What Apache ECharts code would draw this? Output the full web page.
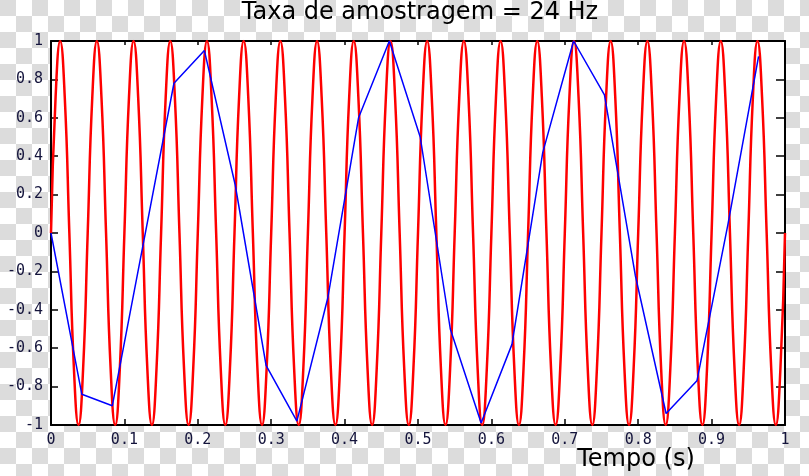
<!DOCTYPE html>
<html>
<head>
<meta charset="utf-8">
<script src="https://cdn.jsdelivr.net/npm/echarts@6/dist/echarts.min.js"></script>
<style>
  html, body { margin: 0; padding: 0; }
  #chart {
    width: 809px; height: 476px;
    background-color: #fff;
    background-image: repeating-conic-gradient(#fff 0% 25%, #dcdcdc 0% 50%);
    background-size: 32px 32px;
    background-position: 0 0;
  }
</style>
</head>
<body>
<div id="chart"></div>
<script>
// ---- data ----
const titleText = 'Taxa de amostragem = 24 Hz';
const xAxisLabel = 'Tempo (s)';

// red: continuous 20 Hz signal, read at 8 points per cycle
const redTime = [
  0, 0.00625, 0.0125, 0.01875, 0.025, 0.03125, 0.0375, 0.04375,
  0.05, 0.05625, 0.0625, 0.06875, 0.075, 0.08125, 0.0875, 0.09375,
  0.1, 0.10625, 0.1125, 0.11875, 0.125, 0.13125, 0.1375, 0.14375,
  0.15, 0.15625, 0.1625, 0.16875, 0.175, 0.18125, 0.1875, 0.19375,
  0.2, 0.20625, 0.2125, 0.21875, 0.225, 0.23125, 0.2375, 0.24375,
  0.25, 0.25625, 0.2625, 0.26875, 0.275, 0.28125, 0.2875, 0.29375,
  0.3, 0.30625, 0.3125, 0.31875, 0.325, 0.33125, 0.3375, 0.34375,
  0.35, 0.35625, 0.3625, 0.36875, 0.375, 0.38125, 0.3875, 0.39375,
  0.4, 0.40625, 0.4125, 0.41875, 0.425, 0.43125, 0.4375, 0.44375,
  0.45, 0.45625, 0.4625, 0.46875, 0.475, 0.48125, 0.4875, 0.49375,
  0.5, 0.50625, 0.5125, 0.51875, 0.525, 0.53125, 0.5375, 0.54375,
  0.55, 0.55625, 0.5625, 0.56875, 0.575, 0.58125, 0.5875, 0.59375,
  0.6, 0.60625, 0.6125, 0.61875, 0.625, 0.63125, 0.6375, 0.64375,
  0.65, 0.65625, 0.6625, 0.66875, 0.675, 0.68125, 0.6875, 0.69375,
  0.7, 0.70625, 0.7125, 0.71875, 0.725, 0.73125, 0.7375, 0.74375,
  0.75, 0.75625, 0.7625, 0.76875, 0.775, 0.78125, 0.7875, 0.79375,
  0.8, 0.80625, 0.8125, 0.81875, 0.825, 0.83125, 0.8375, 0.84375,
  0.85, 0.85625, 0.8625, 0.86875, 0.875, 0.88125, 0.8875, 0.89375,
  0.9, 0.90625, 0.9125, 0.91875, 0.925, 0.93125, 0.9375, 0.94375,
  0.95, 0.95625, 0.9625, 0.96875, 0.975, 0.98125, 0.9875, 0.99375,
  1
];
const redValue = [
  0, 0.707, 1, 0.707, 0, -0.707, -1, -0.707,
  0, 0.707, 1, 0.707, 0, -0.707, -1, -0.707,
  0, 0.707, 1, 0.707, 0, -0.707, -1, -0.707,
  0, 0.707, 1, 0.707, 0, -0.707, -1, -0.707,
  0, 0.707, 1, 0.707, 0, -0.707, -1, -0.707,
  0, 0.707, 1, 0.707, 0, -0.707, -1, -0.707,
  0, 0.707, 1, 0.707, 0, -0.707, -1, -0.707,
  0, 0.707, 1, 0.707, 0, -0.707, -1, -0.707,
  0, 0.707, 1, 0.707, 0, -0.707, -1, -0.707,
  0, 0.707, 1, 0.707, 0, -0.707, -1, -0.707,
  0, 0.707, 1, 0.707, 0, -0.707, -1, -0.707,
  0, 0.707, 1, 0.707, 0, -0.707, -1, -0.707,
  0, 0.707, 1, 0.707, 0, -0.707, -1, -0.707,
  0, 0.707, 1, 0.707, 0, -0.707, -1, -0.707,
  0, 0.707, 1, 0.707, 0, -0.707, -1, -0.707,
  0, 0.707, 1, 0.707, 0, -0.707, -1, -0.707,
  0, 0.707, 1, 0.707, 0, -0.707, -1, -0.707,
  0, 0.707, 1, 0.707, 0, -0.707, -1, -0.707,
  0, 0.707, 1, 0.707, 0, -0.707, -1, -0.707,
  0, 0.707, 1, 0.707, 0, -0.707, -1, -0.707,
  0
];

// blue: the 24 samples (vertices of the blue polyline)
const blueTime = [
  0, 0.042, 0.0835, 0.1255, 0.1675, 0.209, 0.251, 0.293,
  0.335, 0.377, 0.419, 0.461, 0.503, 0.544, 0.586, 0.628,
  0.670, 0.712, 0.754, 0.796, 0.838, 0.880, 0.922, 0.964
];
const blueValue = [
  0, -0.84, -0.9, -0.06, 0.78, 0.95, 0.25, -0.69,
  -0.98, -0.34, 0.6, 1.0, 0.5, -0.5, -0.99, -0.58,
  0.42, 1.0, 0.72, -0.22, -0.94, -0.77, 0.04, 0.92
];

const xMin = 0, xMax = 1, xStep = 0.1;
const yMin = -1, yMax = 1, yStep = 0.2;

// ---- chart ----
const redData = redTime.map((t, i) => [t, redValue[i]]);
const blueData = blueTime.map((t, i) => [t, blueValue[i]]);

const chart = echarts.init(document.getElementById('chart'), null, { renderer: 'canvas' });

const tickFont = { fontFamily: 'DejaVu Sans Mono', fontSize: 15, color: '#14143c' };
const black = '#000';

function xAx(pos, tickLen, showLabel) {
  return {
    type: 'value', min: xMin, max: xMax, interval: xStep, position: pos,
    axisLine: { show: true, onZero: false, lineStyle: { color: black, width: 2 } },
    axisTick: { show: true, inside: true, length: tickLen, lineStyle: { color: black, width: 1.5 } },
    axisLabel: Object.assign({ show: showLabel, margin: 8 }, tickFont),
    splitLine: { show: false }
  };
}
function yAx(pos, tickLen, showLabel) {
  return {
    type: 'value', min: yMin, max: yMax, interval: yStep, position: pos,
    axisLine: { show: true, onZero: false, lineStyle: { color: black, width: 2 } },
    axisTick: { show: true, inside: true, length: tickLen, lineStyle: { color: black, width: 1.5 } },
    axisLabel: Object.assign({ show: showLabel, margin: 8 }, tickFont),
    splitLine: { show: false }
  };
}

chart.setOption({
  animation: false,
  backgroundColor: 'transparent',
  grid: { left: 51, top: 41, width: 734, height: 384, show: true, backgroundColor: '#fff', borderWidth: 0 },
  xAxis: [xAx('bottom', 6, true), xAx('top', 4, false)],
  yAxis: [yAx('left', 7, true), yAx('right', 9, false)],
  graphic: [
    { type: 'text', x: 420, y: 1, style: { text: titleText, fontFamily: 'DejaVu Sans', fontSize: 24, fill: '#000', align: 'center', verticalAlign: 'top' } },
    { type: 'text', x: 636, y: 448, style: { text: xAxisLabel, fontFamily: 'DejaVu Sans', fontSize: 24, fill: '#000', align: 'center', verticalAlign: 'top' } }
  ],
  series: [
    { type: 'line', xAxisIndex: 0, yAxisIndex: 0, data: redData, showSymbol: false, smooth: true,
      lineStyle: { color: '#ff0000', width: 2.5 }, clip: true },
    { type: 'line', xAxisIndex: 0, yAxisIndex: 0, data: blueData, showSymbol: false,
      lineStyle: { color: '#0000ff', width: 1.5 }, clip: true }
  ]
});
</script>
</body>
</html>
